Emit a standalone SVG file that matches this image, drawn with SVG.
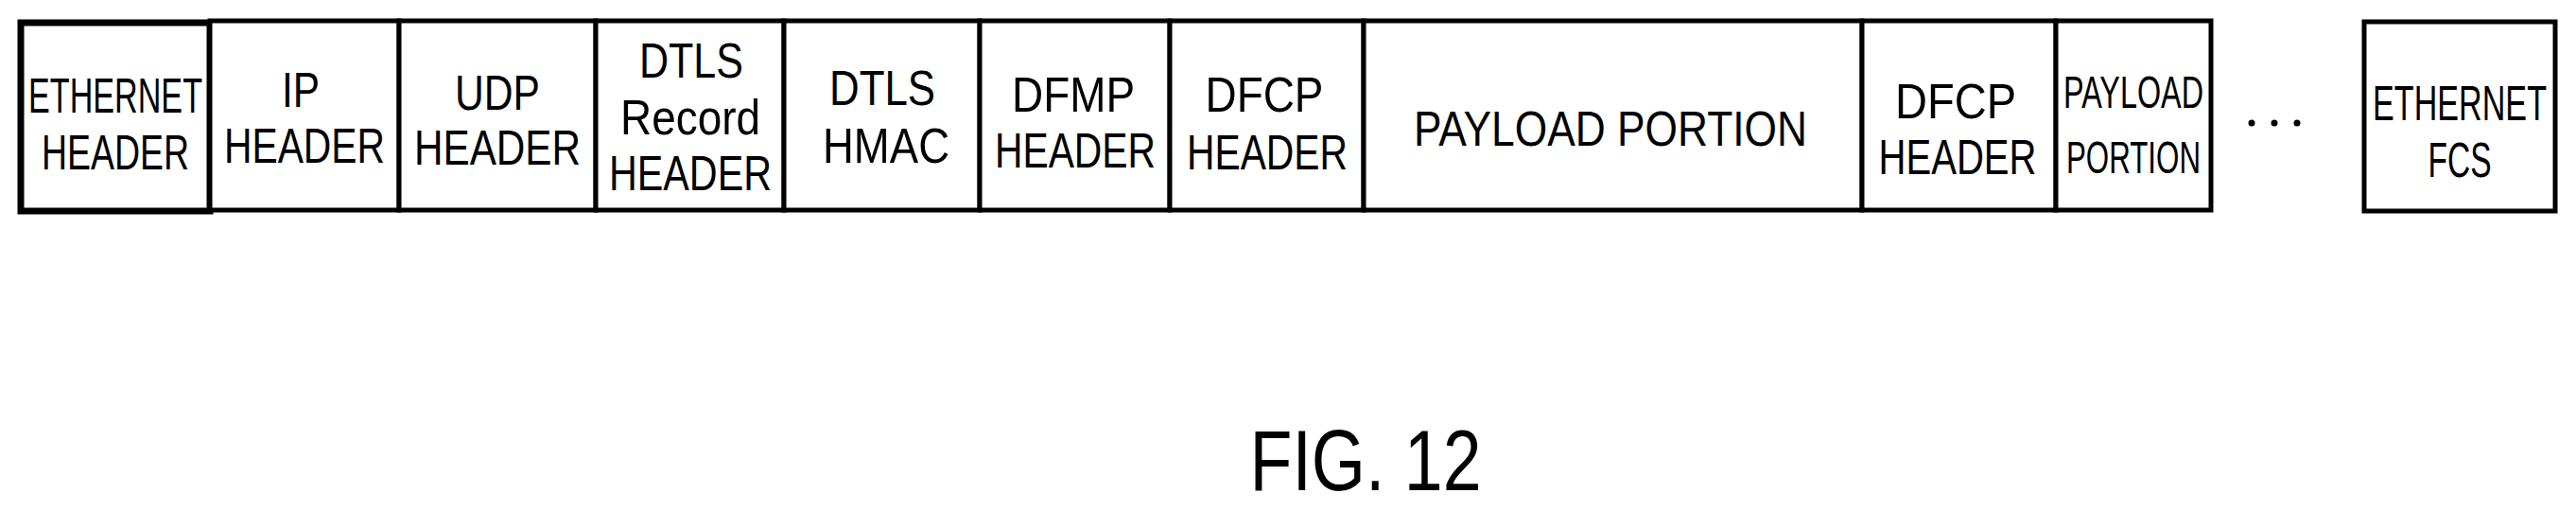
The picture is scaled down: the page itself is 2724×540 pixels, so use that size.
<svg xmlns="http://www.w3.org/2000/svg" width="2724" height="540" viewBox="0 0 2724 540">
<style>
rect{fill:#fff;stroke:#000;stroke-width:5}
text{font-family:"Liberation Sans",Arial,sans-serif;font-size:52px;text-anchor:middle;fill:#000}
.s{font-size:48px}
</style>
<rect width="2724" height="540" fill="#fff" style="stroke:none"/>
<g id="n1"><rect x="22" y="24" width="200" height="199" style="stroke-width:7"/><text x="122" y="119" textLength="184" lengthAdjust="spacingAndGlyphs">ETHERNET</text><text x="122" y="179" textLength="156" lengthAdjust="spacingAndGlyphs">HEADER</text></g>
<g id="n2"><rect x="222" y="22" width="200" height="200"/><text x="318" y="113" textLength="40" lengthAdjust="spacingAndGlyphs">IP</text><text x="322" y="172" textLength="170" lengthAdjust="spacingAndGlyphs">HEADER</text></g>
<g id="n3"><rect x="422" y="22" width="208" height="200"/><text x="526" y="116" textLength="90" lengthAdjust="spacingAndGlyphs">UDP</text><text x="526" y="174" textLength="176" lengthAdjust="spacingAndGlyphs">HEADER</text></g>
<g id="n4"><rect x="630" y="22" width="199" height="200"/><text x="731" y="82" textLength="110" lengthAdjust="spacingAndGlyphs">DTLS</text><text x="730" y="142" textLength="148" lengthAdjust="spacingAndGlyphs">Record</text><text x="730" y="201" textLength="172" lengthAdjust="spacingAndGlyphs">HEADER</text></g>
<g id="n5"><rect x="829" y="22" width="207" height="200"/><text x="933" y="111" textLength="112" lengthAdjust="spacingAndGlyphs">DTLS</text><text x="937" y="172" textLength="134" lengthAdjust="spacingAndGlyphs">HMAC</text></g>
<g id="n6"><rect x="1036" y="22" width="201" height="200"/><text x="1135" y="118" textLength="130" lengthAdjust="spacingAndGlyphs">DFMP</text><text x="1137" y="177" textLength="170" lengthAdjust="spacingAndGlyphs">HEADER</text></g>
<g id="n7"><rect x="1237" y="22" width="205" height="200"/><text x="1337" y="118" textLength="125" lengthAdjust="spacingAndGlyphs">DFCP</text><text x="1340" y="179" textLength="170" lengthAdjust="spacingAndGlyphs">HEADER</text></g>
<g id="n8"><rect x="1442" y="22" width="527" height="200"/><text x="1703" y="154" textLength="416" lengthAdjust="spacingAndGlyphs">PAYLOAD PORTION</text></g>
<g id="n9"><rect x="1969" y="22" width="205" height="200"/><text x="2068" y="125" textLength="128" lengthAdjust="spacingAndGlyphs">DFCP</text><text x="2070" y="184" textLength="167" lengthAdjust="spacingAndGlyphs">HEADER</text></g>
<g id="n10"><rect x="2174" y="22" width="164" height="200"/><text class="s" x="2256" y="114" textLength="148" lengthAdjust="spacingAndGlyphs">PAYLOAD</text><text class="s" x="2256" y="183" textLength="142" lengthAdjust="spacingAndGlyphs">PORTION</text></g>
<g id="dots"><circle cx="2381" cy="130" r="3.5"/><circle cx="2405" cy="130" r="3.5"/><circle cx="2429" cy="130" r="3.5"/></g>
<g id="n11"><rect x="2500" y="23" width="202" height="200"/><text x="2601" y="127" textLength="184" lengthAdjust="spacingAndGlyphs">ETHERNET</text><text x="2601" y="187" textLength="67" lengthAdjust="spacingAndGlyphs">FCS</text></g>
<g id="connectors"></g>
<text x="1444" y="518" style="font-size:90px" textLength="245" lengthAdjust="spacingAndGlyphs">FIG. 12</text>
</svg>
